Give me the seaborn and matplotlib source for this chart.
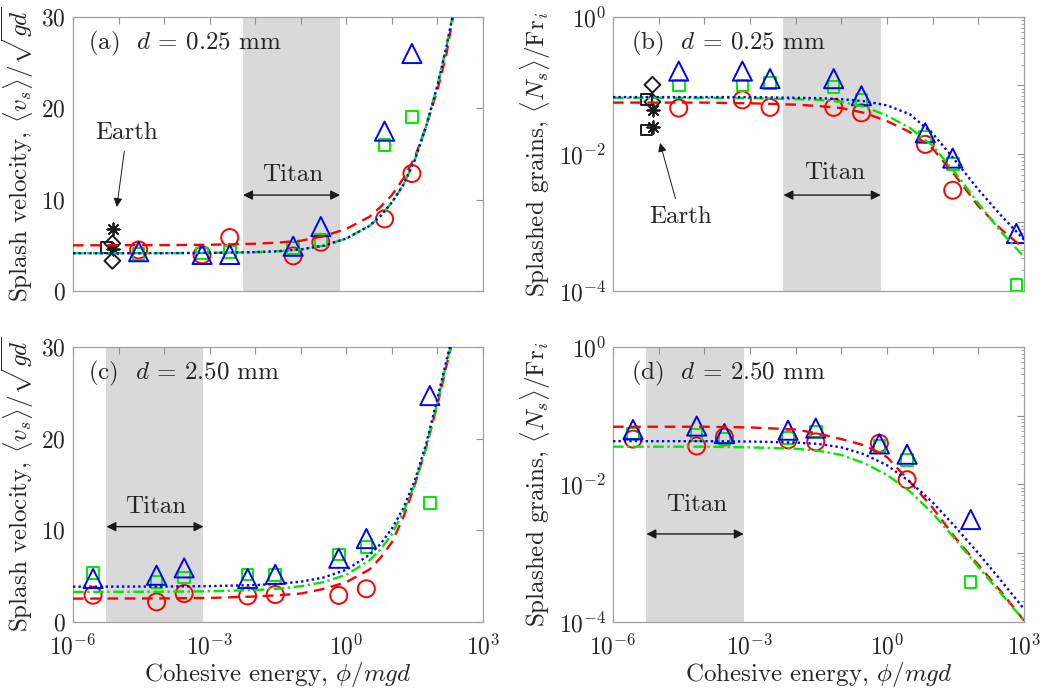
import numpy as np
import pandas as pd
import matplotlib
matplotlib.use('Agg')
import matplotlib.pyplot as plt
import matplotlib.ticker as mticker
import seaborn as sns

# cohesive energy of the simulations (phi/mgd)
phi_d025 = [2.75e-5, 6.8e-4, 2.75e-3, 6.8e-2, 0.275, 6.9, 27.5, 680]
phi_d250 = [2.75e-6, 6.8e-5, 2.75e-4, 6.8e-3, 2.75e-2, 0.68, 2.75, 68]

# (a) splash velocity, d = 0.25 mm
vs_a_circle = [4.49, 3.95, 5.85, 3.84, 5.33, 7.89, 12.86, np.nan]
vs_a_square = [4.05, 4.1, 4.3, 4.7, 5.6, 15.97, 19.04, np.nan]
vs_a_triangle = [4.3, 4.0, 4.0, 4.9, 7.05, 17.5, 26.0, np.nan]

# (c) splash velocity, d = 2.50 mm
vs_c_circle = [2.92, 2.19, 3.1, 2.84, 2.99, 2.9, 3.62, np.nan]
vs_c_square = [5.36, 4.37, 4.85, 5.18, 5.1, 7.36, 8.2, 13.0]
vs_c_triangle = [4.74, 5.1, 5.9, 4.74, 5.2, 6.95, 9.1, 24.7]

# (b) splashed grains, d = 0.25 mm (log10 values)
ns_b_circle = [-1.33, -1.21, -1.32, -1.32, -1.40, -1.86, -2.53, np.nan]
ns_b_square = [-1.0, -1.0, -0.96, -1.02, -1.21, -1.75, -2.15, -3.91]
ns_b_triangle = [-0.79, -0.79, -0.90, -0.90, -1.15, -1.69, -2.06, -3.16]

# (d) splashed grains, d = 2.50 mm (log10 values)
ns_d_circle = [-1.34, -1.44, -1.31, -1.35, -1.38, -1.40, -1.93, np.nan]
ns_d_square = [-1.27, -1.28, -1.34, -1.32, -1.23, -1.44, -1.64, -3.42]
ns_d_triangle = [-1.20, -1.15, -1.26, -1.21, -1.18, -1.41, -1.56, -2.51]

# Earth reference points (d = 0.25 mm)
earth_x_square = 5.4e-6
earth_x_diamond = 7.3e-6
earth_x_star = 7.6e-6
earth_a_square = [4.75]
earth_a_diamond = [5.2, 3.3]
earth_a_star = [6.8, 4.6]
earth_b_square = [-1.21, -1.65]
earth_b_diamond = [-0.99, -1.24]
earth_b_star = [-1.36, -1.60]

# fitted curves (log10 phi grid)
grid_v = [-6, -4, -3, -2, -1.5, -1, -0.5, 0, 0.5, 0.75, 1.0, 1.25, 1.5, 1.75, 2.0, 2.2, 2.35]
fit_a_red = [5.0, 5.02, 5.06, 5.17, 5.3, 5.5, 6.0, 6.8, 8.1, 9.2, 10.5, 12.3, 14.6, 18.0, 22.0, 26.0, 30.3]
fit_a_green = [4.13, 4.14, 4.17, 4.25, 4.35, 4.55, 4.95, 5.75, 7.1, 8.2, 9.7, 11.6, 14.3, 18.0, 22.5, 26.8, 30.5]
fit_a_blue = [4.13, 4.14, 4.17, 4.25, 4.35, 4.55, 4.95, 5.75, 7.1, 8.2, 9.7, 11.6, 14.3, 18.0, 22.5, 26.8, 30.5]
fit_c_red = [2.55, 2.57, 2.62, 2.78, 2.92, 3.1, 3.6, 4.35, 5.7, 7.0, 8.7, 11.4, 14.9, 19.0, 23.7, 28.0, 31.0]
fit_c_green = [3.28, 3.30, 3.35, 3.48, 3.62, 3.9, 4.35, 5.15, 6.7, 7.9, 9.6, 12.0, 15.0, 19.0, 24.0, 28.3, 31.3]
fit_c_blue = [3.85, 3.87, 3.91, 4.03, 4.15, 4.4, 4.85, 5.7, 7.3, 8.5, 10.2, 12.4, 15.4, 19.4, 24.4, 28.6, 31.5]

grid_n = [-6, -4, -3, -2, -1.5, -1, -0.5, 0, 0.5, 1.0, 1.5, 2.0, 2.5, 3.0]
fit_b_red = [-1.25, -1.25, -1.26, -1.28, -1.30, -1.33, -1.40, -1.52, -1.68, -1.92, -2.32, -2.76, -3.10, -3.38]
fit_b_green = [-1.18, -1.18, -1.185, -1.20, -1.21, -1.24, -1.31, -1.44, -1.62, -1.88, -2.28, -2.72, -3.14, -3.50]
fit_b_blue = [-1.17, -1.17, -1.17, -1.18, -1.185, -1.20, -1.23, -1.29, -1.42, -1.70, -2.10, -2.52, -2.90, -3.25]
fit_d_red = [-1.16, -1.16, -1.17, -1.20, -1.26, -1.34, -1.43, -1.60, -1.96, -2.34, -2.78, -3.17, -3.56, -3.98]
fit_d_green = [-1.45, -1.45, -1.46, -1.48, -1.51, -1.57, -1.69, -1.86, -2.10, -2.42, -2.80, -3.20, -3.59, -3.98]
fit_d_blue = [-1.37, -1.37, -1.375, -1.39, -1.41, -1.46, -1.56, -1.72, -1.96, -2.26, -2.62, -3.00, -3.40, -3.81]

# Titan range of cohesive energy
titan_d025 = (5.4e-3, 0.73)
titan_d250 = (5.4e-6, 7.3e-4)

xtick_labels = [r'$10^{-6}$', '', '', r'$10^{-3}$', '', '', r'$10^{0}$', '', '', r'$10^{3}$']
ytick_labels_log = [r'$10^{-4}$', '', r'$10^{-2}$', '', r'$10^{0}$']

RED, GREEN, BLUE = '#FF0000', '#00E800', '#0000FF'

sns.set_theme(style='white')
plt.rcParams['font.family'] = ['cmr10', 'DejaVu Serif']
plt.rcParams['mathtext.fontset'] = 'cm'
plt.rcParams['axes.formatter.use_mathtext'] = True
plt.rcParams['axes.unicode_minus'] = False

fig = plt.figure(figsize=(10.45, 6.9), dpi=100)
ax_a = fig.add_axes([0.0699, 0.5783, 0.3923, 0.3971])
ax_b = fig.add_axes([0.5866, 0.5783, 0.3933, 0.3971])
ax_c = fig.add_axes([0.0699, 0.0986, 0.3923, 0.3985])
ax_d = fig.add_axes([0.5866, 0.0986, 0.3933, 0.3985])


def points(ax, x, y, color, marker, s):
    sns.scatterplot(x=np.asarray(x, dtype=float), y=np.asarray(y, dtype=float), ax=ax,
                    marker=marker, s=s, color=color, facecolor='none',
                    edgecolor=color, linewidth=1.4, zorder=3, legend=False)


def stars(ax, x, y):
    sns.scatterplot(x=np.full(len(y), x), y=np.asarray(y, dtype=float), ax=ax,
                    marker=(8, 2, 0), s=80, color='k', linewidth=1.3, zorder=3, legend=False)


def curve(ax, x, y, color, style):
    sns.lineplot(x=np.asarray(x, dtype=float), y=np.asarray(y, dtype=float), ax=ax,
                 color=color, linestyle=style, linewidth=1.7, sort=False,
                 estimator=None, errorbar=None, zorder=4)


def style_axes(ax, logy, bottom):
    ax.set_xscale('log')
    ax.set_xlim(1e-6, 1e3)
    ax.set_xticks([10.0 ** k for k in range(-6, 4)])
    ax.xaxis.set_minor_locator(mticker.NullLocator())
    if bottom:
        ax.set_xticklabels(xtick_labels)
        ax.set_xlabel(r'Cohesive energy, $\phi/mgd$', fontsize=18, labelpad=0)
    else:
        ax.set_xticklabels([''] * 10)
    if logy:
        ax.set_yscale('log')
        ax.set_ylim(1e-4, 1)
        ax.set_yticks([10.0 ** k for k in range(-4, 1)])
        ax.set_yticklabels(ytick_labels_log)
        ax.yaxis.set_minor_locator(mticker.LogLocator(base=10, subs=np.arange(2, 10)))
        ax.yaxis.set_minor_formatter(mticker.NullFormatter())
        ax.set_ylabel(r'Splashed grains, $\langle N_s\rangle/\mathrm{Fr}_i$', fontsize=18, labelpad=4)
    else:
        ax.set_ylim(0, 30)
        ax.set_yticks([0, 10, 20, 30])
        ax.set_ylabel(r'Splash velocity, $\langle v_s\rangle/\sqrt{gd}$', fontsize=18, labelpad=4)
    ax.tick_params(which='both', direction='in', top=True, right=True,
                   color='#909090', labelsize=17)
    ax.tick_params(axis='y', which='both', pad=5)
    ax.tick_params(axis='x', which='both', pad=9)
    ax.tick_params(which='major', length=5, width=0.8)
    ax.tick_params(which='minor', length=2.5, width=0.6)
    for sp in ax.spines.values():
        sp.set_color('#a0a0a0')
        sp.set_linewidth(0.9)


def titan(ax, span, xc, ytext, yarrow):
    ax.axvspan(span[0], span[1], color='#d9d9d9', lw=0, zorder=0)
    ax.annotate('', xy=(span[1], yarrow), xytext=(span[0], yarrow),
                arrowprops=dict(arrowstyle='<|-|>', color='k', lw=1.0,
                                shrinkA=0, shrinkB=0, mutation_scale=14), zorder=5)
    ax.text(xc, ytext, 'Titan', ha='center', va='center', fontsize=18, zorder=5)


panels = [
    (ax_a, False, False, phi_d025, vs_a_circle, vs_a_square, vs_a_triangle,
     fit_a_red, fit_a_green, fit_a_blue, r'(a)  $d$ = 0.25 mm'),
    (ax_b, True, False, phi_d025, ns_b_circle, ns_b_square, ns_b_triangle,
     fit_b_red, fit_b_green, fit_b_blue, r'(b)  $d$ = 0.25 mm'),
    (ax_c, False, True, phi_d250, vs_c_circle, vs_c_square, vs_c_triangle,
     fit_c_red, fit_c_green, fit_c_blue, r'(c)  $d$ = 2.50 mm'),
    (ax_d, True, True, phi_d250, ns_d_circle, ns_d_square, ns_d_triangle,
     fit_d_red, fit_d_green, fit_d_blue, r'(d)  $d$ = 2.50 mm'),
]

for ax, logy, bottom, phi, circ, sq, tri, fr, fg, fb, label in panels:
    ax.set_facecolor('white')
    if logy:
        conv = lambda v: 10.0 ** np.asarray(v, dtype=float)
        grid = 10.0 ** np.asarray(grid_n)
    else:
        conv = lambda v: np.asarray(v, dtype=float)
        grid = 10.0 ** np.asarray(grid_v)
    points(ax, phi, conv(circ), RED, 'o', 150)
    points(ax, phi, conv(sq), GREEN, 's', 70)
    points(ax, phi, conv(tri), BLUE, '^', 190)
    curve(ax, grid, conv(fr), RED, (0, (4.5, 2.8)))
    curve(ax, grid, conv(fg), GREEN, (0, (4.5, 1.5, 1.0, 1.5)))
    curve(ax, grid, conv(fb), BLUE, (0, (1.0, 1.3)))
    style_axes(ax, logy, bottom)
    ax.text(0.037 if ax in (ax_a, ax_c) else 0.045, 0.905, label,
            transform=ax.transAxes, ha='left', va='center', fontsize=18, zorder=6)

# Titan bands
titan(ax_a, titan_d025, 10 ** -1.17, 12.7, 10.5)
titan(ax_b, titan_d025, 10 ** -1.14, 10 ** -2.28, 10 ** -2.60)
titan(ax_c, titan_d250, 10 ** -4.19, 12.6, 10.4)
titan(ax_d, titan_d250, 10 ** -4.17, 10 ** -2.30, 10 ** -2.72)

# Earth points
points(ax_a, [earth_x_square] * len(earth_a_square), earth_a_square, 'k', 's', 60)
points(ax_a, [earth_x_diamond] * len(earth_a_diamond), earth_a_diamond, 'k', 'D', 65)
stars(ax_a, earth_x_star, earth_a_star)
points(ax_b, [earth_x_square] * len(earth_b_square), 10.0 ** np.array(earth_b_square), 'k', 's', 60)
points(ax_b, [earth_x_diamond] * len(earth_b_diamond), 10.0 ** np.array(earth_b_diamond), 'k', 'D', 65)
stars(ax_b, earth_x_star, 10.0 ** np.array(earth_b_star))

ax_a.annotate('Earth', xy=(10 ** -5.04, 9.2), xytext=(10 ** -4.82, 17.3),
              ha='center', va='center', fontsize=18,
              arrowprops=dict(arrowstyle='-|>', color='k', lw=0.7, shrinkA=3, shrinkB=0,
                              mutation_scale=13))
ax_b.annotate('Earth', xy=(10 ** -4.97, 10 ** -1.84), xytext=(10 ** -4.52, 10 ** -2.92),
              ha='center', va='center', fontsize=18,
              arrowprops=dict(arrowstyle='-|>', color='k', lw=0.7, shrinkA=3, shrinkB=0,
                              mutation_scale=13))

fig.savefig('out.png', dpi=100, facecolor='white')
